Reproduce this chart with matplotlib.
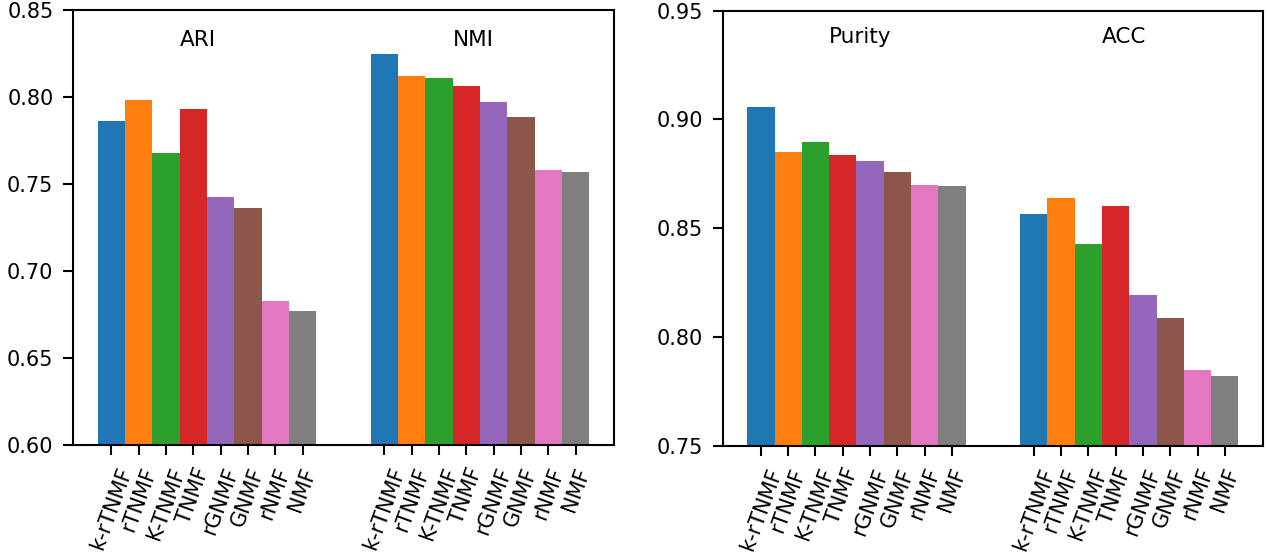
import matplotlib
matplotlib.use("Agg")
import matplotlib.pyplot as plt
import numpy as np

methods = ["k-rTNMF", "rTNMF", "K-TNMF", "TNMF", "rGNMF", "GNMF", "rNMF", "NMF"]
ari = [0.7864, 0.7983, 0.7680, 0.7933, 0.7424, 0.7360, 0.6826, 0.6770]
nmi = [0.8249, 0.8119, 0.8107, 0.8063, 0.7973, 0.7887, 0.7580, 0.7567]
purity = [0.9055, 0.8850, 0.8895, 0.8836, 0.8807, 0.8758, 0.8697, 0.8694]
acc = [0.8565, 0.8640, 0.8426, 0.8604, 0.8194, 0.8089, 0.7848, 0.7820]

plt.rcParams.update({
    "axes.linewidth": 1.0,
    "xtick.major.size": 4.8, "ytick.major.size": 4.8,
    "xtick.major.width": 1.0, "ytick.major.width": 1.0,
    "xtick.major.pad": 4.6, "ytick.major.pad": 4.6,
    "font.size": 10,
})

colors = plt.rcParams['axes.prop_cycle'].by_key()['color'][:8]

fig = plt.figure(figsize=(1268/150, 554/150), dpi=150)
ax1 = fig.add_axes([73/1268, 1-445/554, (614-73)/1268, 435/554])
ax2 = fig.add_axes([722.7/1268, 1-445.7/554, (1263-722.7)/1268, 435/554])

def draw(ax, g1, g2, n1, n2, ylim, ytext):
    x1 = np.arange(len(methods))
    x2 = x1 + len(methods) + 2
    ax.bar(x1, [v - ylim[0] for v in g1], bottom=ylim[0], width=1.0, color=colors)
    ax.bar(x2, [v - ylim[0] for v in g2], bottom=ylim[0], width=1.0, color=colors)
    ax.set_ylim(*ylim)
    ax.set_xticks(np.concatenate([x1, x2]))
    ax.set_xticklabels(methods + methods, rotation=70)
    ax.text(x1[3] - 0.5, ytext, n1, fontsize=10.3)
    ax.text(x2[3] - 0.5, ytext, n2, fontsize=10.3)

draw(ax1, ari, nmi, "ARI", "NMI", (0.60, 0.85), 0.8295)
ax1.set_yticks([0.60, 0.65, 0.70, 0.75, 0.80, 0.85])
draw(ax2, purity, acc, "Purity", "ACC", (0.75, 0.95), 0.935)
ax2.set_yticks([0.75, 0.80, 0.85, 0.90, 0.95])

fig.savefig("out.png", dpi=150)
